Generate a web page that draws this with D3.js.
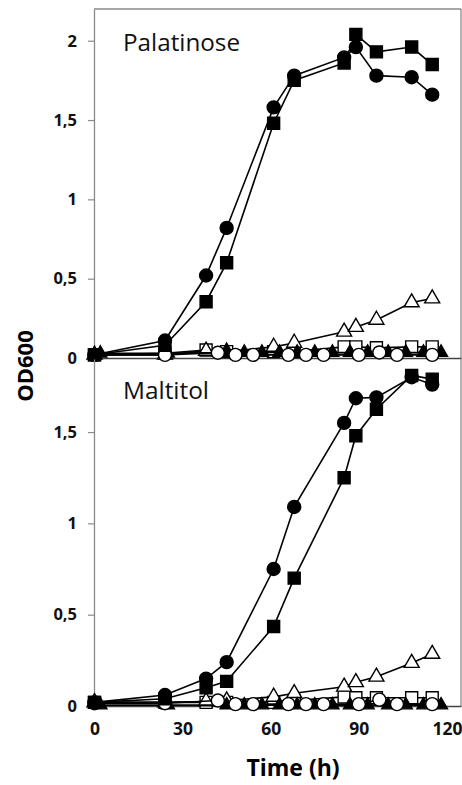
<!DOCTYPE html>
<html><head><meta charset="utf-8">
<script src="https://cdn.jsdelivr.net/npm/d3@7"></script>
<style>html,body{margin:0;padding:0;background:#fff}svg{display:block}</style>
</head><body>
<svg id="chart" width="462" height="785"></svg>
<script>
// ---- DATA ----
const timesMain = [0, 24, 38, 45, 61, 68, 85, 89, 96, 108, 115];
const timesOpenCircle = [0, 24, 42, 48, 54, 66, 72, 78, 90, 97, 103, 115];
const timesFilledTri = [2, 25, 45, 51, 57, 63, 69, 75, 81, 87, 93, 100, 106, 112, 118];

const palFilledCircle = [0.02, 0.11, 0.52, 0.82, 1.58, 1.78, 1.895, 1.96, 1.78, 1.77, 1.66];
const palFilledSquare = [0.02, 0.08, 0.355, 0.60, 1.48, 1.75, 1.86, 2.04, 1.93, 1.96, 1.85];
const palOpenTri = [0.02, 0.02, 0.045, 0.04, 0.07, 0.095, 0.165, 0.195, 0.24, 0.35, 0.375];
const palOpenSquare = [0.02, 0.03, 0.05, 0.04, 0.04, 0.04, 0.07, 0.07, 0.065, 0.07, 0.07];
const palFilledTri = [0.03, 0.03, 0.035, 0.035, 0.035, 0.035, 0.035, 0.035, 0.035, 0.035, 0.035, 0.035, 0.035, 0.035, 0.035];
const palOpenCircle = [0.02, 0.02, 0.033, 0.02, 0.02, 0.02, 0.02, 0.02, 0.02, 0.035, 0.02, 0.02];

const malFilledCircle = [0.02, 0.06, 0.15, 0.24, 0.75, 1.09, 1.55, 1.685, 1.69, 1.80, 1.76];
const malFilledSquare = [0.02, 0.04, 0.10, 0.135, 0.435, 0.70, 1.25, 1.48, 1.625, 1.81, 1.79];
const malOpenTri = [0.02, 0.02, 0.025, 0.03, 0.05, 0.07, 0.105, 0.13, 0.16, 0.235, 0.285];
const malOpenSquare = [0.02, 0.02, 0.02, 0.02, 0.02, 0.03, 0.05, 0.045, 0.045, 0.045, 0.045];
const malFilledTri = [0.005, 0.005, 0.005, 0.005, 0.005, 0.005, 0.005, 0.005, 0.005, 0.005, 0.005, 0.005, 0.005, 0.005, 0.005];
const malOpenCircle = [0.015, 0.015, 0.03, 0.01, 0.01, 0.01, 0.01, 0.01, 0.01, 0.035, 0.01, 0.01];

const panelTitles = ["Palatinose", "Maltitol"];
const yTicksTop = [0, 0.5, 1, 1.5, 2];
const yTicksBottom = [0, 0.5, 1, 1.5];
const xTicks = [0, 30, 60, 90, 120];
const xLabel = "Time (h)";
const yLabel = "OD600";

// ---- LAYOUT ----
const svg = d3.select("#chart");
const L = 94, R = 461;
const x = d3.scaleLinear().domain([0, 124.8]).range([L + 0.5, R]);
const yTop = d3.scaleLinear().domain([0, 2.2]).range([358, 9]);
const yBot = d3.scaleLinear().domain([0, 1.9]).range([706, 359]);

const frameColor = "#8a8a8a";
const fmt = d => String(d).replace(".", ",");
const tickFont = "'Open Sans', sans-serif";

function triPath(s) {
  const h = s * Math.sqrt(3) / 2;
  return `M0,${-2 * h / 3}L${s / 2},${h / 3}L${-s / 2},${h / 3}Z`;
}
const shapes = {
  circle: {d: d3.symbol(d3.symbolCircle, Math.PI * 6.5 * 6.5)()},
  square: {d: "M-6,-6H6V6H-6Z"},
  tri: {d: triPath(15)},
  triSmall: {d: triPath(13)}
};

function drawPanel(y, ticks, title, series, top) {
  const g = svg.append("g");
  g.append("line").attr("x1", R).attr("x2", R).attr("y1", y.range()[1]).attr("y2", y.range()[0])
    .attr("stroke", frameColor).attr("stroke-width", 1.3);
  if (top) {
    g.append("line").attr("x1", L).attr("x2", R).attr("y1", 9).attr("y2", 9)
      .attr("stroke", frameColor).attr("stroke-width", 1.3);
  }
  const ya = g.append("g").attr("transform", `translate(${L},0)`)
    .call(d3.axisLeft(y).tickValues(ticks).tickFormat(fmt).tickSize(6).tickSizeOuter(0).tickPadding(11));
  ya.select(".domain").attr("stroke", frameColor).attr("stroke-width", 1.3);
  ya.selectAll(".tick line").attr("stroke", frameColor).attr("stroke-width", 1.2);
  ya.selectAll(".tick text").attr("font-family", tickFont).attr("font-weight", "bold")
    .attr("font-size", 16.5).attr("fill", "#111");
  const xa = g.append("g").attr("transform", `translate(0,${y(0)})`)
    .call(d3.axisBottom(x).tickValues(top ? [] : xTicks).tickSize(0).tickSizeOuter(0).tickPadding(17));
  xa.select(".domain").attr("stroke", "#444").attr("stroke-width", 1.4);
  xa.selectAll(".tick text").attr("font-family", tickFont).attr("font-weight", "bold")
    .attr("font-size", 17.5).attr("fill", "#111");
  g.append("text").attr("x", 123).attr("y", top ? 51 : 399).text(title)
    .attr("font-family", "'Open Sans', sans-serif").attr("font-size", 23).attr("fill", "#111")
    .attr("textLength", top ? 117 : 86).attr("lengthAdjust", "spacingAndGlyphs");
  const line = d3.line().x(d => x(d[0])).y(d => y(d[1]));
  series.forEach(s => {
    const pts = s.t.map((t, i) => [t, s.v[i]]);
    g.append("path").attr("d", line(pts)).attr("fill", "none").attr("stroke", "#000").attr("stroke-width", 1.6);
    g.selectAll(null).data(pts).enter().append("path")
      .attr("d", shapes[s.shape].d)
      .attr("transform", d => `translate(${x(d[0])},${y(d[1])})`)
      .attr("fill", s.fill ? "#000" : "#fff").attr("stroke", "#000").attr("stroke-width", 1.4);
  });
}

drawPanel(yTop, yTicksTop, panelTitles[0], [
  {t: timesMain, v: palOpenSquare, shape: "square", fill: false},
  {t: timesMain, v: palOpenTri, shape: "tri", fill: false},
  {t: timesFilledTri, v: palFilledTri, shape: "triSmall", fill: true},
  {t: timesOpenCircle, v: palOpenCircle, shape: "circle", fill: false},
  {t: timesMain, v: palFilledSquare, shape: "square", fill: true},
  {t: timesMain, v: palFilledCircle, shape: "circle", fill: true}
], true);

drawPanel(yBot, yTicksBottom, panelTitles[1], [
  {t: timesMain, v: malOpenSquare, shape: "square", fill: false},
  {t: timesMain, v: malOpenTri, shape: "tri", fill: false},
  {t: timesFilledTri, v: malFilledTri, shape: "triSmall", fill: true},
  {t: timesOpenCircle, v: malOpenCircle, shape: "circle", fill: false},
  {t: timesMain, v: malFilledSquare, shape: "square", fill: true},
  {t: timesMain, v: malFilledCircle, shape: "circle", fill: true}
], false);

svg.append("text").attr("transform", "translate(33,366) rotate(-90)").attr("text-anchor", "middle")
  .attr("font-family", "'Open Sans', sans-serif").attr("font-weight", "bold").attr("font-size", 22)
  .attr("fill", "#000").text(yLabel);
svg.append("text").attr("x", 293).attr("y", 776).attr("text-anchor", "middle")
  .attr("font-family", "'Open Sans', sans-serif").attr("font-weight", "bold").attr("font-size", 23)
  .attr("fill", "#000").text(xLabel);
</script>
</body></html>
